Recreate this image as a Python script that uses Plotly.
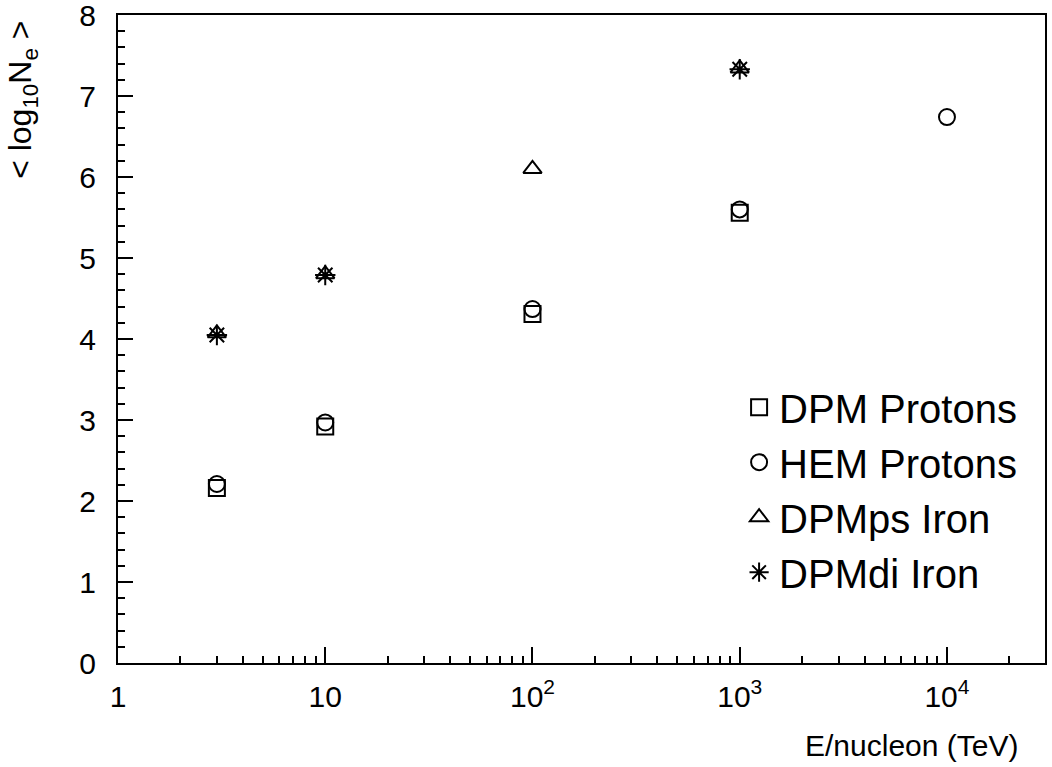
import plotly.graph_objects as go

# Energies per nucleon (TeV)
e_dpm_p = [3, 10, 100, 1000]
v_dpm_p = [2.16, 2.92, 4.31, 5.56]

e_hem_p = [3, 10, 100, 1000, 10000]
v_hem_p = [2.21, 2.97, 4.37, 5.60, 6.74]

e_dpmps_fe = [3, 10, 100, 1000]
v_dpmps_fe = [4.07, 4.80, 6.10, 7.34]

e_dpmdi_fe = [3, 10, 1000]
v_dpmdi_fe = [4.05, 4.79, 7.33]

x_tickvals = [1, 10, 100, 1000, 10000]
x_ticktext = ["1", "10", "10<sup>2</sup>", "10<sup>3</sup>", "10<sup>4</sup>"]
x_minor = [m * 10 ** d for d in range(0, 5) for m in range(2, 10)]
y_tickvals = [0, 1, 2, 3, 4, 5, 6, 7, 8]

FONT = "Liberation Sans"

fig = go.Figure()
series = [
    ("DPM Protons", e_dpm_p, v_dpm_p, "square-open", 16),
    ("HEM Protons", e_hem_p, v_hem_p, "circle-open", 16),
    ("DPMps Iron", e_dpmps_fe, v_dpmps_fe, "triangle-up-open", 16),
    ("DPMdi Iron", e_dpmdi_fe, v_dpmdi_fe, "asterisk-open", 17),
]
for name, xs, ys, sym, sz in series:
    fig.add_trace(go.Scatter(
        x=xs, y=ys, mode="markers", name=name, legendgroup=name,
        marker=dict(symbol=sym, size=sz, color="black",
                    line=dict(color="black", width=2)),
    ))

fig.update_layout(
    width=1052, height=767,
    margin=dict(l=118, r=7, t=15, b=104),
    paper_bgcolor="white", plot_bgcolor="white",
    font=dict(family=FONT, color="black", size=30),
    showlegend=True,
    legend=dict(
        x=0.670, y=0.445, xanchor="left", yanchor="top",
        font=dict(family=FONT, size=40, color="black"),
        bgcolor="rgba(0,0,0,0)", tracegroupgap=0,
    ),
)
fig.update_xaxes(
    type="log", range=[0, 4.473],
    tickvals=x_tickvals, ticktext=x_ticktext,
    ticks="inside", ticklen=16, tickwidth=2, tickcolor="black",
    minor=dict(tickvals=x_minor, ticks="inside", ticklen=7, tickwidth=1.5, tickcolor="black"),
    showline=True, linecolor="black", linewidth=2, mirror=True,
    showgrid=False, zeroline=False, automargin=False,
    tickfont=dict(family=FONT, size=30), ticklabelstandoff=6,
)
fig.update_yaxes(
    range=[0, 8], tickvals=y_tickvals,
    ticks="inside", ticklen=15, tickwidth=2, tickcolor="black",
    minor=dict(dtick=0.2, tick0=0, ticks="inside", ticklen=7, tickwidth=1.5, tickcolor="black"),
    showline=True, linecolor="black", linewidth=2, mirror=True,
    showgrid=False, zeroline=False, automargin=False,
    ticklabeloverflow="allow",
    tickfont=dict(family=FONT, size=30), ticklabelstandoff=14,
)
fig.add_annotation(
    text="< log<sub>10</sub>N<sub>e</sub> >", textangle=-90,
    xref="paper", yref="paper", x=-0.1025, y=0.869,
    xanchor="center", yanchor="middle", showarrow=False,
    font=dict(family=FONT, size=32, color="black"),
)
fig.add_annotation(
    text="E/nucleon (TeV)",
    xref="paper", yref="paper", x=0.973, y=-0.127,
    xanchor="right", yanchor="middle", showarrow=False,
    font=dict(family=FONT, size=30, color="black"),
)
fig.write_html("out.html")
